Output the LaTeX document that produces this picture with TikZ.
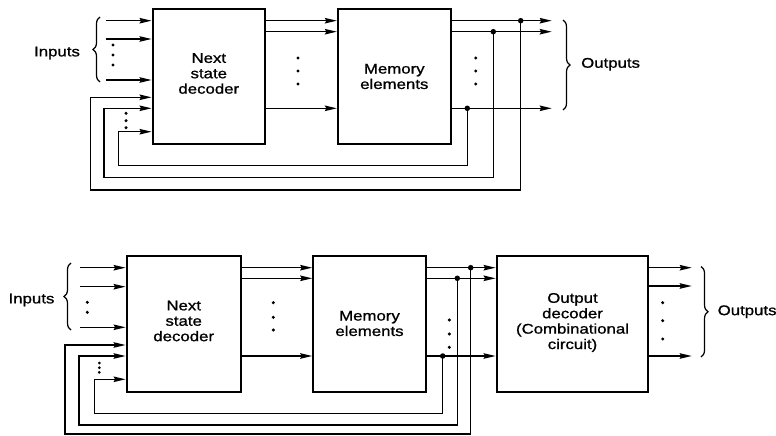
\documentclass[tikz,border=0pt]{standalone}
\usepackage{fontspec}
\setmainfont[FakeStretch=1.2,FakeBold=1]{Liberation Sans}
\usetikzlibrary{arrows.meta,decorations.pathreplacing}
\tikzset{
  blk/.style={draw, line width=2.2pt, inner sep=0pt, align=center,
    font=\fontsize{14}{15.4}\selectfont},
  arr/.style={line width=1.4pt, -{Stealth[length=12pt,width=5.5pt,inset=1.5pt]}},
  wire/.style={line width=1.4pt},
  junc/.style={circle, fill, inner sep=0pt, minimum size=5.5pt},
  ell/.style={circle, fill, inner sep=0pt, minimum size=3.4pt},
  lbl/.style={font=\fontsize{14}{15.4}\selectfont, inner sep=0pt},
  brc/.style={line width=1.2pt, decorate, decoration={brace, amplitude=7pt}}
}
\begin{document}
\begin{tikzpicture}[x=1pt,y=-1pt]
\useasboundingbox (0,0) rectangle (776,436);

% ================= top diagram =================
\node[blk, minimum width=112.3pt, minimum height=134.7pt] (nsda) at (208.8,76.7) {};
\node[lbl, align=center] (nsdat) at (208.8,73.5) {Next\\state\\decoder};
\node[blk, minimum width=112.7pt, minimum height=134.7pt] (mema) at (394.3,76.7) {};
\node[lbl, align=center] (memat) at (394.3,76.5) {Memory\\elements};

% inputs
\coordinate (ia1) at (106,20.7);
\coordinate (ia2) at (106,39);
\coordinate (ia3) at (106,80);
\draw[arr] (ia1) -- (ia1 -| nsda.west);
\draw[arr] (ia2) -- (ia2 -| nsda.west);
\draw[arr] (ia3) -- (ia3 -| nsda.west);
\node[ell] (da1) at (113,45) {};
\node[ell] (da2) at (113,55) {};
\node[ell] (da3) at (113,65) {};
\coordinate (bra1) at (100,82);
\coordinate (bra2) at (100,17);
\draw[brc] (bra1) -- (bra2);
\node[lbl] (inpa) at (57,53) {Inputs};

% decoder -> memory
\coordinate (ma1) at (0,20.7);
\coordinate (ma2) at (0,31.7);
\coordinate (ma3) at (0,108.3);
\draw[arr] (ma1 -| nsda.east) -- (ma1 -| mema.west);
\draw[arr] (ma2 -| nsda.east) -- (ma2 -| mema.west);
\draw[arr] (ma3 -| nsda.east) -- (ma3 -| mema.west);
\node[ell] (dm1) at (298,58) {};
\node[ell] (dm2) at (298,71) {};
\node[ell] (dm3) at (298,84) {};

% memory outputs
\coordinate (oa1) at (551.7,20.7);
\coordinate (oa2) at (551.7,31.7);
\coordinate (oa3) at (551.7,108.3);
\draw[arr] (oa1 -| mema.east) -- (oa1);
\draw[arr] (oa2 -| mema.east) -- (oa2);
\draw[arr] (oa3 -| mema.east) -- (oa3);
\node[ell] (do1) at (475.7,58) {};
\node[ell] (do2) at (475.7,71) {};
\node[ell] (do3) at (475.7,84) {};
\node[junc] (ja1) at (520.7,20.7) {};
\node[junc] (ja2) at (493.3,31.7) {};
\node[junc] (ja3) at (467.3,108.3) {};

% feedback
\coordinate (fa1) at (90.7,97.3);
\coordinate (fa2) at (104,108.3);
\coordinate (fa3) at (118.3,131.7);
\draw[arr] (ja1.center) -- (520.7,190) -- (90.7,190) -- (fa1) -- (fa1 -| nsda.west);
\draw[arr] (ja2.center) -- (493.3,177.3) -- (104,177.3) -- (fa2) -- (fa2 -| nsda.west);
\draw[arr] (ja3.center) -- (467.3,165.7) -- (118.3,165.7) -- (fa3) -- (fa3 -| nsda.west);
\node[ell] (df1) at (126,113.3) {};
\node[ell] (df2) at (126,120.7) {};
\node[ell] (df3) at (126,127.7) {};

\coordinate (brb1) at (563,20);
\coordinate (brb2) at (563,110);
\draw[brc] (brb1) -- (brb2);
\node[lbl, anchor=west] (outa) at (581,64.3) {Outputs};

% ================= bottom diagram =================
\node[blk, minimum width=114pt, minimum height=135.7pt] (nsdb) at (183.7,323.8) {};
\node[lbl, align=center] (nsdbt) at (183.7,321) {Next\\state\\decoder};
\node[blk, minimum width=112.4pt, minimum height=135.7pt] (memb) at (369.5,323.8) {};
\node[lbl, align=center] (membt) at (369.5,323.5) {Memory\\elements};
\node[blk, minimum width=151.6pt, minimum height=135.7pt] (outb) at (572.5,323.8) {};
\node[lbl, align=center] (outbt) at (572.5,322.5) {Output\\decoder\\(Combinational\\circuit)};

% inputs
\coordinate (ib1) at (80,267.7);
\coordinate (ib2) at (80,286.7);
\coordinate (ib3) at (80,327.3);
\draw[arr] (ib1) -- (ib1 -| nsdb.west);
\draw[arr] (ib2) -- (ib2 -| nsdb.west);
\draw[arr] (ib3) -- (ib3 -| nsdb.west);
\node[ell] (db1) at (87.3,302.3) {};
\node[ell] (db2) at (87.3,312.3) {};
\coordinate (brc1) at (71,330);
\coordinate (brc2) at (71,263);
\draw[brc] (brc1) -- (brc2);
\node[lbl] (inpb) at (31.5,300) {Inputs};

% decoder -> memory
\coordinate (mb1) at (0,267.7);
\coordinate (mb2) at (0,278.3);
\coordinate (mb3) at (0,356);
\draw[arr] (mb1 -| nsdb.east) -- (mb1 -| memb.west);
\draw[arr] (mb2 -| nsdb.east) -- (mb2 -| memb.west);
\draw[arr] (mb3 -| nsdb.east) -- (mb3 -| memb.west);
\node[ell] (dn1) at (273.3,302.7) {};
\node[ell] (dn2) at (273.3,317.3) {};
\node[ell] (dn3) at (273.3,330) {};

% memory -> output decoder
\draw[arr] (mb1 -| memb.east) -- (mb1 -| outb.west);
\draw[arr] (mb2 -| memb.east) -- (mb2 -| outb.west);
\draw[arr] (mb3 -| memb.east) -- (mb3 -| outb.west);
\node[junc] (jb1) at (470.7,267.7) {};
\node[junc] (jb2) at (457.3,278.3) {};
\node[junc] (jb3) at (442.7,356) {};
\node[ell] (dp1) at (449.3,320) {};
\node[ell] (dp2) at (449.3,334) {};
\node[ell] (dp3) at (449.3,347.3) {};

% feedback
\coordinate (fb1) at (65,345);
\coordinate (fb2) at (79,356);
\coordinate (fb3) at (94.3,379.3);
\draw[arr] (jb1.center) -- (470.7,434) -- (65,434) -- (fb1) -- (fb1 -| nsdb.west);
\draw[arr] (jb2.center) -- (457.3,425) -- (79,425) -- (fb2) -- (fb2 -| nsdb.west);
\draw[arr] (jb3.center) -- (442.7,413.3) -- (94.3,413.3) -- (fb3) -- (fb3 -| nsdb.west);
\node[ell, minimum size=3pt] (dg1) at (99.3,363) {};
\node[ell, minimum size=3pt] (dg2) at (99.3,367.7) {};
\node[ell, minimum size=3pt] (dg3) at (99.3,372.4) {};

% outputs
\coordinate (ob1) at (691.7,267.7);
\coordinate (ob2) at (691.7,286);
\coordinate (ob3) at (691.7,356);
\draw[arr] (ob1 -| outb.east) -- (ob1);
\draw[arr] (ob2 -| outb.east) -- (ob2);
\draw[arr] (ob3 -| outb.east) -- (ob3);
\node[ell] (dq1) at (662.7,302.7) {};
\node[ell] (dq2) at (662.7,320.7) {};
\node[ell] (dq3) at (662.7,339) {};
\coordinate (brd1) at (701,266.5);
\coordinate (brd2) at (701,357);
\draw[brc] (brd1) -- (brd2);
\node[lbl, anchor=west] (outbl) at (717.5,311.7) {Outputs};
\end{tikzpicture}
\end{document}
